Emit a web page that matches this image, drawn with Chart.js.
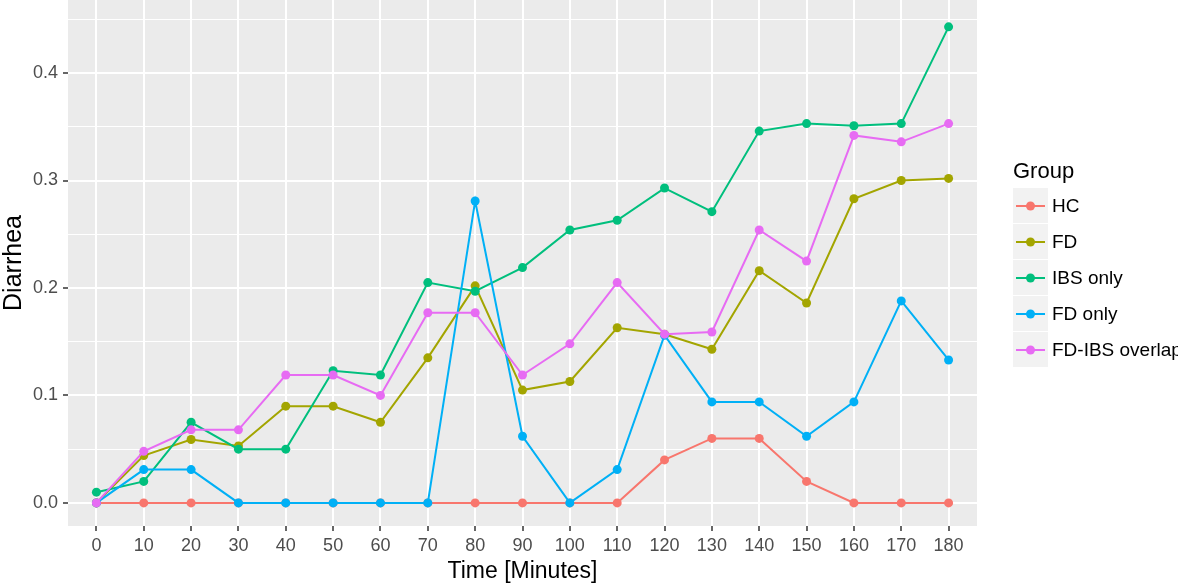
<!DOCTYPE html>
<html>
<head>
<meta charset="utf-8">
<script src="https://cdn.jsdelivr.net/npm/chart.js@4/dist/chart.umd.min.js"></script>
<style>
  body { margin: 0; background: #ffffff; }
  #wrap { width: 1178px; height: 584px; }
</style>
</head>
<body>
<div id="wrap"><canvas id="diarrheaChart" width="1178" height="584"></canvas></div>
<script>
// time points (minutes)
const times = [0, 10, 20, 30, 40, 50, 60, 70, 80, 90, 100, 110, 120, 130, 140, 150, 160, 170, 180];

// mean diarrhea score per group
const hc = [0, 0, 0, 0, 0, 0, 0, 0, 0, 0, 0, 0, 0.04, 0.06, 0.06, 0.02, 0, 0, 0];
const fd = [0, 0.044, 0.059, 0.053, 0.09, 0.09, 0.075, 0.135, 0.202, 0.105, 0.113, 0.163, 0.157, 0.143, 0.216, 0.186, 0.283, 0.300, 0.302];
const ibsOnly = [0.01, 0.02, 0.075, 0.05, 0.05, 0.123, 0.119, 0.205, 0.197, 0.219, 0.254, 0.263, 0.293, 0.271, 0.346, 0.353, 0.351, 0.353, 0.443];
const fdOnly = [0, 0.031, 0.031, 0, 0, 0, 0, 0, 0.281, 0.062, 0, 0.031, 0.156, 0.094, 0.094, 0.062, 0.094, 0.188, 0.133];
const overlap = [0, 0.048, 0.068, 0.068, 0.119, 0.119, 0.1, 0.177, 0.177, 0.119, 0.148, 0.205, 0.157, 0.159, 0.254, 0.225, 0.342, 0.336, 0.353];

const groupNames = ['HC', 'FD', 'IBS only', 'FD only', 'FD-IBS overlap'];
const yMajor = [0, 0.1, 0.2, 0.3, 0.4];
const yMinor = [0.05, 0.15, 0.25, 0.35, 0.45];

const colors = ['#F8766D', '#A3A500', '#00BF7D', '#00B0F6', '#E76BF3'];
const seriesValues = [hc, fd, ibsOnly, fdOnly, overlap];

function isMinor(v) {
  return Math.abs(v * 10 - Math.round(v * 10)) > 1e-6;
}

// grey panel like ggplot
const panelBg = {
  id: 'panelBg',
  beforeDraw(chart) {
    const a = chart.chartArea;
    const ctx = chart.ctx;
    ctx.save();
    ctx.fillStyle = '#EBEBEB';
    ctx.fillRect(a.left, a.top, a.right - a.left, a.bottom - a.top);
    ctx.restore();
  }
};

// legend drawn on the right, ggplot style
const sideLegend = {
  id: 'sideLegend',
  afterDraw(chart) {
    const ctx = chart.ctx;
    const x0 = 1013, top = 188, keySize = 36;
    ctx.save();
    ctx.fillStyle = '#000000';
    ctx.font = '22px "Liberation Sans", Arial, sans-serif';
    ctx.textBaseline = 'alphabetic';
    ctx.fillText('Group', x0, 178);
    groupNames.forEach(function(name, i) {
      const y = top + i * keySize;
      const cy = y + keySize / 2;
      ctx.fillStyle = '#F2F2F2';
      ctx.fillRect(x0, y, 35, keySize - 1);
      ctx.strokeStyle = colors[i];
      ctx.lineWidth = 2;
      ctx.beginPath();
      ctx.moveTo(x0 + 3, cy);
      ctx.lineTo(x0 + 32, cy);
      ctx.stroke();
      ctx.fillStyle = colors[i];
      ctx.beginPath();
      ctx.arc(x0 + 17.5, cy, 4.5, 0, Math.PI * 2);
      ctx.fill();
      ctx.fillStyle = '#000000';
      ctx.font = '19px "Liberation Sans", Arial, sans-serif';
      ctx.textBaseline = 'middle';
      ctx.fillText(name, x0 + 39, cy + 1);
    });
    ctx.restore();
  }
};

const datasets = seriesValues.map(function(vals, i) {
  return {
    label: groupNames[i],
    data: vals.map(function(v, j) { return { x: times[j], y: v }; }),
    borderColor: colors[i],
    backgroundColor: colors[i],
    borderWidth: 2,
    pointRadius: 4.5,
    pointBorderWidth: 0,
    tension: 0,
    order: seriesValues.length - 1 - i
  };
});

const tickFont = { family: '"Liberation Sans", Arial, sans-serif', size: 18 };

new Chart(document.getElementById('diarrheaChart'), {
  type: 'line',
  data: { datasets: datasets },
  options: {
    responsive: false,
    animation: false,
    devicePixelRatio: 1,
    layout: { autoPadding: false, padding: { left: 0, right: 201, top: 0, bottom: 0 } },
    plugins: {
      legend: { display: false },
      tooltip: { enabled: false }
    },
    scales: {
      x: {
        type: 'linear',
        min: -6,
        max: 186,
        afterBuildTicks: function(scale) {
          scale.ticks = times.map(function(t) { return { value: t }; });
        },
        afterFit: function(scale) {
          scale.height = 58;
          scale.paddingLeft = 0;
          scale.paddingRight = 0;
        },
        border: { display: false },
        grid: {
          color: '#FFFFFF',
          lineWidth: 2,
          drawTicks: true,
          tickLength: 5,
          tickColor: '#333333',
          tickWidth: 1.5
        },
        ticks: {
          autoSkip: false,
          maxRotation: 0,
          color: '#4D4D4D',
          font: tickFont,
          padding: 4,
          callback: function(v) { return String(v); }
        },
        title: {
          display: true,
          text: 'Time [Minutes]',
          color: '#000000',
          font: { family: '"Liberation Sans", Arial, sans-serif', size: 23 },
          padding: { top: 0, bottom: -1 }
        }
      },
      y: {
        min: -0.0215,
        max: 0.468,
        afterBuildTicks: function(scale) {
          scale.ticks = yMajor.concat(yMinor).sort(function(a, b) { return a - b; })
            .map(function(v) { return { value: v }; });
        },
        afterFit: function(scale) {
          scale.width = 68;
          scale.paddingTop = 0;
          scale.paddingBottom = 0;
        },
        border: { display: false },
        grid: {
          color: '#FFFFFF',
          lineWidth: function(ctx) { return isMinor(ctx.tick.value) ? 1 : 2; },
          drawTicks: true,
          tickLength: 5,
          tickColor: function(ctx) { return isMinor(ctx.tick.value) ? 'rgba(0,0,0,0)' : '#333333'; },
          tickWidth: 1.5
        },
        ticks: {
          autoSkip: false,
          color: '#4D4D4D',
          font: tickFont,
          padding: 5,
          callback: function(v) { return isMinor(v) ? '' : v.toFixed(1); }
        },
        title: {
          display: true,
          text: 'Diarrhea',
          color: '#000000',
          font: { family: '"Liberation Sans", Arial, sans-serif', size: 25 },
          padding: { top: -1, bottom: 0 }
        }
      }
    }
  },
  plugins: [panelBg, sideLegend]
});
</script>
</body>
</html>
